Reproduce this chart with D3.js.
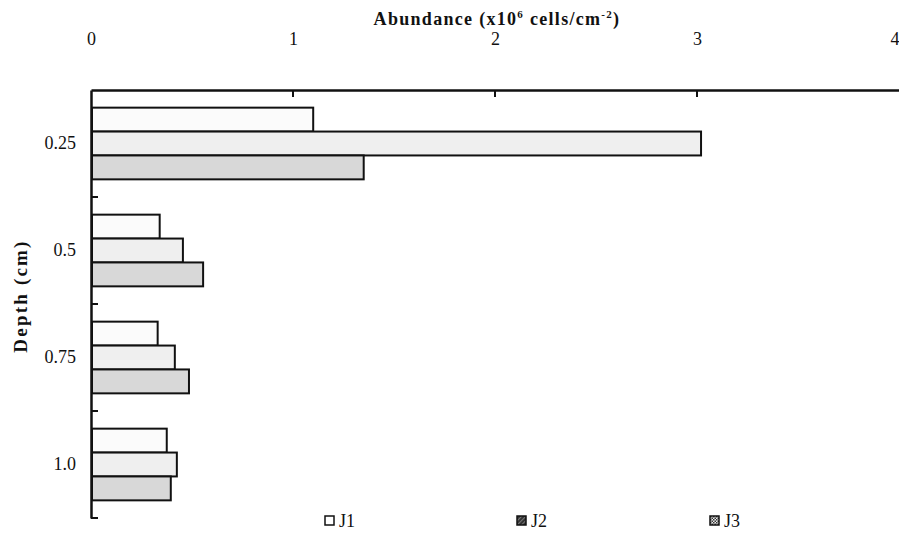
<!DOCTYPE html>
<html lang="en">
<head>
  <meta charset="UTF-8">
  <title>Abundance by depth</title>
  <script src="https://d3js.org/d3.v7.min.js"></script>
  <style>
    body { margin: 0; background: white; }
    text { font-family: "Liberation Serif", "Times New Roman", serif; fill: #111; }
    .axis-title { font-weight: bold; font-size: 18px; letter-spacing: 1.3px; }
  </style>
</head>
<body>
  <svg width="899" height="534"></svg>
  <script>
    // data
    const depths = ["0.25", "0.5", "0.75", "1.0"];
    const seriesNames = ["J1", "J2", "J3"];
    const j1 = [1.10, 0.34, 0.33, 0.375];
    const j2 = [3.02, 0.455, 0.415, 0.425];
    const j3 = [1.35, 0.555, 0.485, 0.395];
    const xTicks = [0, 1, 2, 3, 4];

    const fills = { J1: "#fbfbfb", J2: "#efefef", J3: "#d8d8d8" };

    const margin = { top: 90, left: 91, right: 0, bottom: 16 };
    const height = 534 - margin.top - margin.bottom;

    const svg = d3.select("svg");

    // legend swatch patterns
    const defs = svg.append("defs");
    const p2 = defs.append("pattern").attr("id", "hatch").attr("width", 3).attr("height", 3)
      .attr("patternUnits", "userSpaceOnUse").attr("patternTransform", "rotate(45)");
    p2.append("rect").attr("width", 3).attr("height", 3).attr("fill", "#333");
    p2.append("line").attr("x1", 0).attr("y1", 0).attr("x2", 0).attr("y2", 3)
      .attr("stroke", "#bbb").attr("stroke-width", 1);
    const p3 = defs.append("pattern").attr("id", "checker").attr("width", 3).attr("height", 3)
      .attr("patternUnits", "userSpaceOnUse");
    p3.append("rect").attr("width", 3).attr("height", 3).attr("fill", "#eee");
    p3.append("rect").attr("width", 1.5).attr("height", 1.5).attr("fill", "#333");
    p3.append("rect").attr("x", 1.5).attr("y", 1.5).attr("width", 1.5).attr("height", 1.5).attr("fill", "#333");
    const legendFills = { J1: "#ffffff", J2: "url(#hatch)", J3: "url(#checker)" };

    const g = svg.append("g").attr("transform", `translate(${margin.left},${margin.top})`);

    const x = d3.scaleLinear().domain([0, 4]).range([0, 808]);
    const y = d3.scaleBand().domain(depths).range([0, height]).paddingInner(0.33).paddingOuter(0.165);
    const ySub = d3.scaleBand().domain(seriesNames).range([0, y.bandwidth()]);
    const yOuter = d3.scaleBand().domain(depths).range([0, height]);

    const rows = depths.map((d, i) => ({ depth: d, values: [
      { key: "J1", v: j1[i] }, { key: "J2", v: j2[i] }, { key: "J3", v: j3[i] }
    ]}));

    // bars
    const grp = g.selectAll(".grp").data(rows).enter().append("g")
      .attr("transform", d => `translate(0,${y(d.depth)})`);
    grp.selectAll("rect").data(d => d.values).enter().append("rect")
      .attr("x", 1)
      .attr("y", d => ySub(d.key))
      .attr("width", d => x(d.v) - 1)
      .attr("height", ySub.bandwidth())
      .attr("fill", d => fills[d.key])
      .attr("stroke", "#111")
      .attr("stroke-width", 2);

    // top axis
    const xAxis = d3.axisTop(x).tickValues(xTicks).tickSize(0).tickPadding(0).tickFormat(d3.format("d"));
    const gx = g.append("g").call(xAxis);
    gx.select(".domain").attr("stroke", "#111").attr("stroke-width", 2.5);
    gx.selectAll(".tick text").attr("y", -45).attr("dy", 0)
      .style("font-size", "18px").style("font-family", "Liberation Serif").attr("fill", "#111")
      .attr("text-anchor", d => d === 4 ? "end" : "middle");
    g.selectAll(".xtick").data(xTicks.slice(1, 4)).enter().append("line")
      .attr("x1", d => x(d)).attr("x2", d => x(d)).attr("y1", 0).attr("y2", 7)
      .attr("stroke", "#111").attr("stroke-width", 2);

    // left axis
    const yAxis = d3.axisLeft(y).tickSize(0).tickPadding(15);
    const gy = g.append("g").call(yAxis);
    gy.select(".domain").attr("stroke", "#111").attr("stroke-width", 2.5);
    gy.selectAll(".tick text").style("font-size", "18px").style("font-family", "Liberation Serif")
      .attr("fill", "#111");
    g.selectAll(".ytick").data(depths).enter().append("line")
      .attr("x1", 0).attr("x2", 7)
      .attr("y1", d => yOuter(d) + yOuter.bandwidth()).attr("y2", d => yOuter(d) + yOuter.bandwidth())
      .attr("stroke", "#111").attr("stroke-width", 2);

    // axis titles
    const title = svg.append("text").attr("class", "axis-title")
      .attr("x", 497).attr("y", 25).attr("text-anchor", "middle");
    title.append("tspan").text("Abundance (x10");
    title.append("tspan").attr("dy", -7).style("font-size", "11px").text("6");
    title.append("tspan").attr("dy", 7).text(" cells/cm");
    title.append("tspan").attr("dy", -7).style("font-size", "11px").text("-2");
    title.append("tspan").attr("dy", 7).text(")");

    svg.append("text").attr("class", "axis-title")
      .attr("transform", "translate(27,296) rotate(-90)")
      .attr("text-anchor", "middle").style("font-size", "19px").style("letter-spacing", "2.2px")
      .text("Depth (cm)");

    // legend
    const legendX = [325, 517, 710];
    const lg = svg.selectAll(".lg").data(seriesNames).enter().append("g")
      .attr("transform", (d, i) => `translate(${legendX[i]},516)`);
    lg.append("rect").attr("width", 9).attr("height", 9)
      .attr("fill", d => legendFills[d]).attr("stroke", "#111").attr("stroke-width", 1.5);
    lg.append("text").attr("x", 14).attr("y", 11).style("font-size", "18px").text(d => d);
  </script>
</body>
</html>
